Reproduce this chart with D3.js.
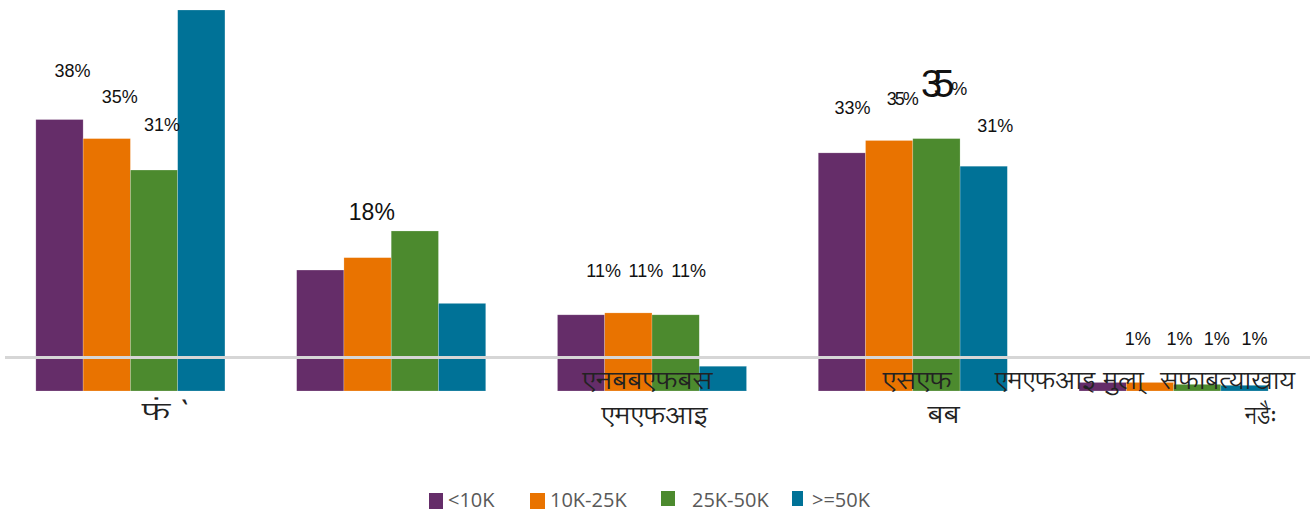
<!DOCTYPE html>
<html>
<head>
<meta charset="utf-8">
<script src="https://cdn.jsdelivr.net/npm/d3@7"></script>
<style>
  html, body { margin: 0; padding: 0; background: #fff; }
  svg { display: block; }
</style>
</head>
<body>
<svg id="chart" width="1316" height="513"></svg>
<script>
// ---- data ----
const categories = ["फं `", "blank", "एनबबएफबस एमएफआइ", "एसएफ बब", "एमएफआइ मुला् सफाबत्याखाय नडैः"];
const series = ["<10K", "10K-25K", "25K-50K", ">=50K"];
const colors = ["#652D69", "#E97300", "#4C8A2E", "#007297"];
const valLow = [28.5, 12.7, 8.0, 25.0, 0.9];        // <10K
const valMid = [26.5, 14.0, 8.2, 26.3, 0.9];        // 10K-25K
const valHigh = [23.2, 16.8, 8.0, 26.5, 0.7];       // 25K-50K
const valTop = [40.0, 9.2, 2.6, 23.6, 0.6];         // >=50K
const labelLow = ["38%", "", "11%", "33%", "1%"];
const labelMid = ["35%", "", "11%", "35%", "1%"];
const labelHigh = ["31%", "18%", "11%", "35%", "1%"];
const labelTop = ["", "", "", "31%", "1%"];
const catLines = [["फं `"], [""], ["एनबबएफबस", "एमएफआइ"], ["एसएफ", "बब"], ["एमएफआइ मुला्  सफाबत्याखाय", "नडैः"]];

const values = [valLow, valMid, valHigh, valTop];
const labels = [labelLow, labelMid, labelHigh, labelTop];

// ---- layout (not data) ----
const svg = d3.select("#chart");
const x = d3.scaleBand().domain(categories).range([0, 1304]).paddingInner(0.275).paddingOuter(0.1375);
const xs = d3.scaleBand().domain(series).range([0, x.bandwidth()]);
const y = d3.scaleLinear().domain([0, 40]).range([391, 10]);

// label layout: [dx from bar center, baseline y, font size]
const labelLayout = [
  [[13, 77, 18], [13, 103, 18], [8, 131, 18], null],
  [null, null, [-43, 220, 23], null],
  [[22.5, 277, 18], [17.5, 277, 18], [13, 277, 18], null],
  [[10.5, 114, 18], [12.5, 105, 18], [null, 97, 38], [11.5, 132, 18]],
  [[35, 345, 18], [29.5, 345, 18], [19.5, 345, 18], [10, 345, 18]]
];

// bars
const g = svg.append("g");
categories.forEach((c, ci) => {
  series.forEach((s, si) => {
    const v = values[si][ci];
    g.append("rect")
      .attr("x", x(c) + xs(s))
      .attr("width", xs.bandwidth())
      .attr("y", y(v))
      .attr("height", y(0) - y(v))
      .attr("fill", colors[si])
      .attr("stroke", "#ffffff")
      .attr("stroke-opacity", 0.35)
      .attr("stroke-width", 0.6);
  });
});

// gray reference line
svg.append("line")
  .attr("x1", 5).attr("x2", 1310)
  .attr("y1", 357.5).attr("y2", 357.5)
  .attr("stroke", "#d6d6d6").attr("stroke-width", 3.2);

// data labels
categories.forEach((c, ci) => {
  series.forEach((s, si) => {
    const t = labels[si][ci];
    const L = labelLayout[ci][si];
    if (!t || !L) return;
    const cx = x(c) + xs(s) + xs.bandwidth() / 2;
    if (L[0] === null) {
      // oversized, squeezed label
      const tx = svg.append("text")
        .attr("x", 921).attr("y", L[1])
        .attr("font-family", "Liberation Sans, Arial, sans-serif")
        .attr("fill", "#111");
      tx.append("tspan").attr("font-size", L[2]).attr("letter-spacing", -9).text(t.replace("%", ""));
      tx.append("tspan").attr("font-size", 18).attr("dx", 6).attr("dy", -2).text("%");
      return;
    }
    svg.append("text")
      .attr("x", cx + L[0]).attr("y", L[1])
      .attr("text-anchor", "middle")
      .attr("font-family", "Liberation Sans, Arial, sans-serif")
      .attr("font-size", L[2])
      .attr("letter-spacing", (ci === 3 && si === 1) ? -2 : 0)
      .attr("fill", "#111")
      .text(t);
  });
});

// category labels: [dx from group center, baseline y, width]
const catLayout = [
  [[31.5, 420, 40]],
  [[0, 414, 0]],
  [[-4.5, 389, 130], [2.5, 424, 106]],
  [[4.5, 389, 69], [31, 423, 32]],
  [[-28.5, 389, 300], [87.5, 424, 32]]
];
categories.forEach((c, ci) => {
  catLines[ci].forEach((line, li) => {
    if (!line) return;
    const L = catLayout[ci][li];
    svg.append("text")
      .attr("x", x(c) + x.bandwidth() / 2 + L[0])
      .attr("y", L[1])
      .attr("text-anchor", "middle")
      .attr("font-family", "Lohit Devanagari, Noto Serif Devanagari, Noto Sans Devanagari, Noto Sans, sans-serif")
      .attr("font-size", 24)
      .attr("fill", "#222")
      .attr("xml:space", "preserve")
      .attr("textLength", L[2])
      .attr("lengthAdjust", "spacingAndGlyphs")
      .text(line);
  });
});

// legend
const legendPos = [[429, 493, 14, 16, 448], [530, 493, 15, 16, 550], [661, 491, 14, 15, 692], [792, 491, 11, 15, 812]];
series.forEach((s, si) => {
  const P = legendPos[si];
  svg.append("rect").attr("x", P[0]).attr("y", P[1]).attr("width", P[2]).attr("height", P[3]).attr("fill", colors[si]);
  svg.append("text")
    .attr("x", P[4]).attr("y", 507)
    .attr("font-family", "Open Sans, Lato, sans-serif")
    .attr("font-size", 20)
    .attr("fill", "#595959")
    .text(s);
});
</script>
</body>
</html>
